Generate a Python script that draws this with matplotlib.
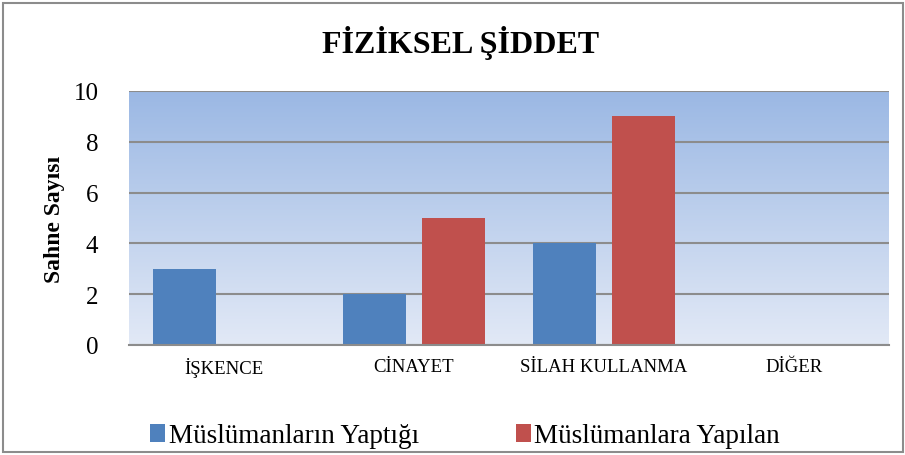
import matplotlib
matplotlib.use("Agg")
import matplotlib.pyplot as plt
import numpy as np
from matplotlib.patches import Rectangle

categories = ["İŞKENCE", "CİNAYET", "SİLAH KULLANMA", "DİĞER"]
series_names = ["Müslümanların Yaptığı", "Müslümanlara Yapılan"]
yaptigi = [3, 2, 4, 0]
yapilan = [0, 5, 9, 0]
yticks = [0, 2, 4, 6, 8, 10]

plt.rcParams['font.family'] = ['Liberation Serif', 'DejaVu Serif']

fig = plt.figure(figsize=(9.05, 4.56), dpi=100)
ax = fig.add_axes([129/905, 1-346/456, 760/905, 254/456])

# gradient background
grad = np.linspace(0, 1, 256).reshape(-1, 1)
top = np.array([155, 184, 228]) / 255
bot = np.array([226, 233, 246]) / 255
img = (top[None, None, :] * (1 - grad[:, :, None]) + bot[None, None, :] * grad[:, :, None])
ax.imshow(img, extent=[0, 1, 0, 1], transform=ax.transAxes, aspect='auto', zorder=0)

x = np.arange(len(categories))
w = 0.33
off = 0.207
ax.bar(x - off, yaptigi, w, color='#4F81BD', zorder=3, label=series_names[0])
ax.bar(x + off, yapilan, w, color='#C0504D', zorder=3, label=series_names[1])

ax.set_xlim(-0.5, len(categories) - 0.5)
ax.set_ylim(0, 10)
ax.set_yticks(yticks)
ax.set_yticklabels([str(v) for v in yticks], fontsize=18)
ax.set_xticks(x)
ax.set_xticklabels(categories, fontsize=13.5)
ax.tick_params(axis='both', length=0)
ax.tick_params(axis='x', pad=9)
ax.tick_params(axis='y', pad=22)
for s in ['top', 'right', 'left']:
    ax.spines[s].set_visible(False)
ax.spines['bottom'].set_color('#8c8c8c')
ax.spines['bottom'].set_linewidth(1.5)
ax.spines['bottom'].set_zorder(4)
ax.yaxis.grid(True, color='#8c8c8c', linewidth=1.5, zorder=1)
ax.set_axisbelow(True)

ax.set_ylabel("Sahne Sayısı", fontsize=17, fontweight='bold', labelpad=6)
fig.text(461/905, 1 - 43/456, "FİZİKSEL ŞİDDET", ha='center', va='center',
         fontsize=23, fontweight='bold')

leg = fig.legend(loc='center', bbox_to_anchor=(0.514, 1 - 437/456), ncol=2,
                 frameon=False, fontsize=19.5, handlelength=0.55, handleheight=0.65,
                 handletextpad=0.12, columnspacing=3.6)

fig.patches.append(Rectangle((3/905, 3/456), 1 - 5/905, 1 - 7/456, transform=fig.transFigure,
                             fill=False, edgecolor='#8c8c8c', linewidth=1.5))

fig.savefig("out.png", dpi=100)
